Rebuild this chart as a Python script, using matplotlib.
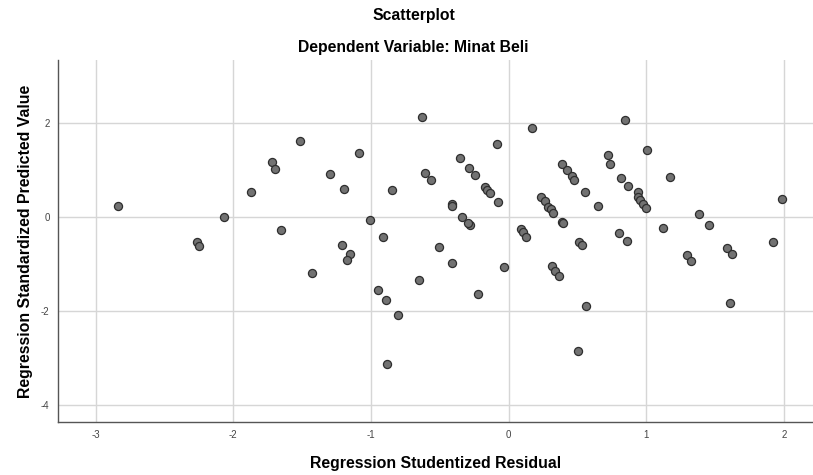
import matplotlib
matplotlib.use('Agg')
import matplotlib.pyplot as plt

# Regression Studentized Residual (x) / Regression Standardized Predicted Value (y)
resid = [-2.84, -2.26, -2.25, -2.065, -1.87, -1.72, -1.695, -1.654, -1.516, -1.431,
         -1.295, -1.196, -1.208, -1.155, -1.172, -1.085, -1.007, -0.910, -0.847, -0.949,
         -0.891, -0.804, -0.884,
         -0.626, -0.609, -0.561, -0.653, -0.505, -0.415, -0.41, -0.408, -0.352, -0.337,
         -0.286, -0.282, -0.294, -0.245, -0.221, -0.170, -0.155, -0.136, -0.087, -0.080,
         -0.032, 0.090, 0.107, 0.126, 0.167, 0.233, 0.265, 0.289, 0.306, 0.325,
         0.313, 0.337, 0.367, 0.386, 0.422, 0.459, 0.478, 0.386, 0.398, 0.502,
         0.512, 0.532, 0.556, 0.563, 0.646, 0.718, 0.733, 0.801, 0.816, 0.847,
         0.859, 0.867, 0.937, 0.942, 0.956, 0.976, 0.995, 1.007, 1.124, 1.170,
         1.296, 1.325, 1.383, 1.454, 1.587, 1.624, 1.607, 1.920, 1.988]
pred = [0.24, -0.53, -0.61, -0.01, 0.52, 1.16, 1.02, -0.28, 1.61, -1.19,
        0.92, 0.59, -0.60, -0.79, -0.92, 1.35, -0.07, -0.43, 0.57, -1.55,
        -1.76, -2.08, -3.12,
        2.13, 0.93, 0.78, -1.34, -0.64, 0.28, 0.24, -0.98, 1.26, -0.01,
        1.03, -0.18, -0.13, 0.90, -1.64, 0.64, 0.57, 0.50, 1.55, 0.31,
        -1.06, -0.26, -0.33, -0.42, 1.90, 0.43, 0.33, 0.22, 0.16, 0.09,
        -1.05, -1.16, -1.25, 1.12, 1.00, 0.87, 0.78, -0.10, -0.13, -2.86,
        -0.53, -0.59, 0.52, -1.90, 0.23, 1.31, 1.12, -0.34, 0.83, 2.07,
        -0.52, 0.66, 0.52, 0.42, 0.35, 0.28, 0.20, 1.42, -0.24, 0.84,
        -0.82, -0.93, 0.06, -0.18, -0.65, -0.78, -1.84, -0.54, 0.38]

xticks = [-3, -2, -1, 0, 1, 2]
yticks = [-4, -2, 0, 2]

plt.rcParams['font.family'] = ['Liberation Sans', 'DejaVu Sans']
plt.rcParams['axes.unicode_minus'] = False  # SPSS uses plain hyphens

fig = plt.figure(figsize=(8.13, 4.75), dpi=100)
ax = fig.add_axes([0.0713, 0.1116, 0.9287, 0.7624])

ax.set_xlim(-3.273, 2.21)
ax.set_ylim(-4.36, 3.34)
ax.set_xticks(xticks)
ax.set_yticks(yticks)
ax.grid(True, color='#d6d6d6', linewidth=1.0)
ax.set_axisbelow(True)

ax.scatter(resid, pred, s=34, facecolor='#727272', edgecolor='#2e2e2e', linewidth=0.9, zorder=3)

for side in ['top', 'right']:
    ax.spines[side].set_visible(False)
for side in ['left', 'bottom']:
    ax.spines[side].set_color('#555555')
    ax.spines[side].set_linewidth(1.0)

ax.tick_params(length=0, labelsize=7, colors='#444444', pad=6)

ax.set_xlabel('Regression Studentized Residual', fontsize=11.4, fontweight='bold', labelpad=11)
ax.set_ylabel('Regression Standardized Predicted Value', fontsize=11.4, fontweight='bold', labelpad=6)

fig.text(0.509, 0.968, 'Scatterplot', ha='center', va='center', fontsize=11.3, fontweight='bold')
fig.text(0.508, 0.901, 'Dependent Variable: Minat Beli', ha='center', va='center',
         fontsize=11.3, fontweight='bold')

plt.savefig('out.png', dpi=100)
plt.close()
